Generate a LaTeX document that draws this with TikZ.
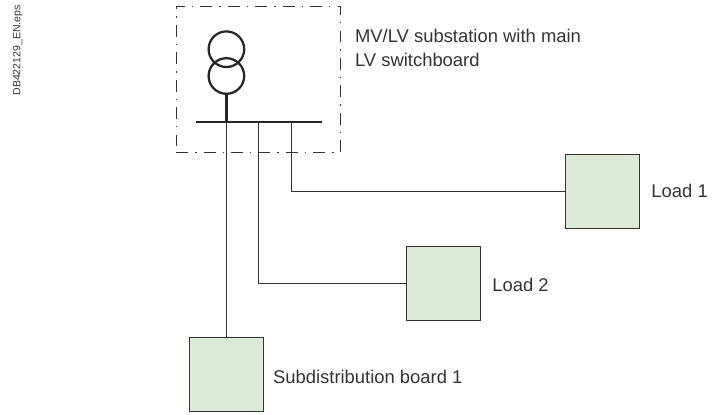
\documentclass[tikz,border=0pt]{standalone}
\usepackage{fontspec}
\setmainfont{Liberation Sans}
\usepackage{tikz}
\usetikzlibrary{positioning}
\definecolor{boxgreen}{HTML}{DCEAD5}
\definecolor{linegray}{HTML}{333333}

\begin{document}
\begin{tikzpicture}[every node/.style={font=\fontsize{13.1}{16.7}\selectfont, text=linegray},
    loadbox/.style={draw=linegray, line width=0.8pt, fill=boxgreen, minimum width=1.85cm, minimum height=1.85cm, inner sep=0pt},
    coil/.style={draw=black!85, circle, line width=1.6pt, minimum size=0.89cm, inner sep=0pt},
    lbl/.style={anchor=west, inner sep=0pt, align=left},
    feeder/.style={draw=linegray, line width=0.8pt}]
  \useasboundingbox (0,0) rectangle (17.8,10.35);
  % substation outline
  \node[draw=linegray, line width=0.8pt, dash pattern=on 8.5pt off 5pt on 1pt off 5pt, minimum width=4.11cm, minimum height=3.65cm, inner sep=0pt] (sub) at (6.46,8.37) {};
  \node[coil] (up) at (5.66,9.12) {};
  \node[coil] (low) at (5.66,8.45) {};
  \coordinate (busl) at (4.9,7.3);
  \coordinate (busr) at (8.05,7.3);
  \coordinate (tapa) at (5.66,7.3);
  \coordinate (tapb) at (6.47,7.3);
  \coordinate (tapc) at (7.29,7.3);
  \draw[line width=1.7pt, black!85] (low.south) -- (tapa);
  \draw[line width=1.7pt, black!85] (busl) -- (busr);
  % loads
  \node[loadbox] (load1) at (15.06,5.565) {};
  \node[loadbox] (load2) at (11.08,3.27) {};
  \node[loadbox] (board) at (5.66,0.98) {};
  \draw[feeder] (tapa) -- (board);
  \draw[feeder] (tapb) |- (load2);
  \draw[feeder] (tapc) |- (load1);
  % labels
  \node[lbl] (sublbl) at (8.87,9.15) {MV/LV substation with main\\LV switchboard};
  \node[lbl] (lbl1) at (16.28,5.57) {Load 1};
  \node[lbl] (lbl2) at (12.3,3.23) {Load 2};
  \node[lbl] (lbl3) at (6.82,0.93) {Subdistribution board 1};
  \node[font=\fontsize{7.5}{9}\selectfont, rotate=90, inner sep=0pt, anchor=base] (ref) at (0.51,9.09) {DB422129\_EN.eps};
\end{tikzpicture}
\end{document}
